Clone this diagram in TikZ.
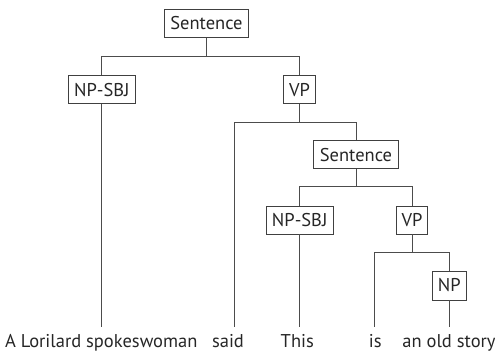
\documentclass[tikz,border=0pt]{standalone}
\usepackage{fontspec}
\setmainfont{PT Sans}
\begin{document}
\begin{tikzpicture}[x=1pt,y=1pt,
  box/.style={draw=black!75, line width=0.9pt, inner sep=0pt, minimum height=28pt, font=\fontsize{18.5}{22}\selectfont, text=black!85},
  leaf/.style={anchor=base, inner sep=0pt, font=\fontsize{18.5}{22}\selectfont, text=black!85},
  edge/.style={draw=black!70, line width=0.9pt}]
\useasboundingbox (0,0) rectangle (495,351);
% nodes
\node[box, minimum width=84.4pt] (s1) at (206.5,327.5) {Sentence};
\node[box, minimum width=67pt] (np1) at (101.8,261.3) {NP-SBJ};
\node[box, minimum width=31.6pt] (vp1) at (299.5,261.3) {VP};
\node[box, minimum width=84.6pt] (s2) at (356,196.3) {Sentence};
\node[box, minimum width=67.3pt] (np2) at (299.7,131) {NP-SBJ};
\node[box, minimum width=31.4pt] (vp2) at (412,131) {VP};
\node[box, minimum width=33.3pt, minimum height=29pt] (np3) at (449.3,65.5) {NP};
% bar levels
\coordinate (b1) at (0,294.7);
\coordinate (b2) at (0,229);
\coordinate (b3) at (0,164.3);
\coordinate (b4) at (0,98.7);
\coordinate (ly) at (0,23.7);
\coordinate (e2) at (234.3,23.7);
\coordinate (e4) at (374.7,23.7);
% leaves
\node[leaf] (w1) at (101.2,4) {A Lorilard spokeswoman};
\node[leaf] (w2) at (228,4) {said};
\node[leaf] (w3) at (297.3,4) {This};
\node[leaf] (w4) at (375.3,4) {is};
\node[leaf] (w5) at (449,4) {an old story};
% edges
\draw[edge] (s1.south) -- (s1.south |- b1) -| (np1.north);
\draw[edge] (s1.south |- b1) -| (vp1.north);
\draw[edge] (vp1.south) -- (vp1.south |- b2) -| (e2);
\draw[edge] (vp1.south |- b2) -| (s2.north);
\draw[edge] (s2.south) -- (s2.south |- b3) -| (np2.north);
\draw[edge] (s2.south |- b3) -| (vp2.north);
\draw[edge] (vp2.south) -- (vp2.south |- b4) -| (e4);
\draw[edge] (vp2.south |- b4) -| (np3.north);
\draw[edge] (np1.south) -- (np1.south |- ly);
\draw[edge] (np2.south) -- (np2.south |- ly);
\draw[edge] (np3.south) -- (np3.south |- ly);
\end{tikzpicture}
\end{document}
